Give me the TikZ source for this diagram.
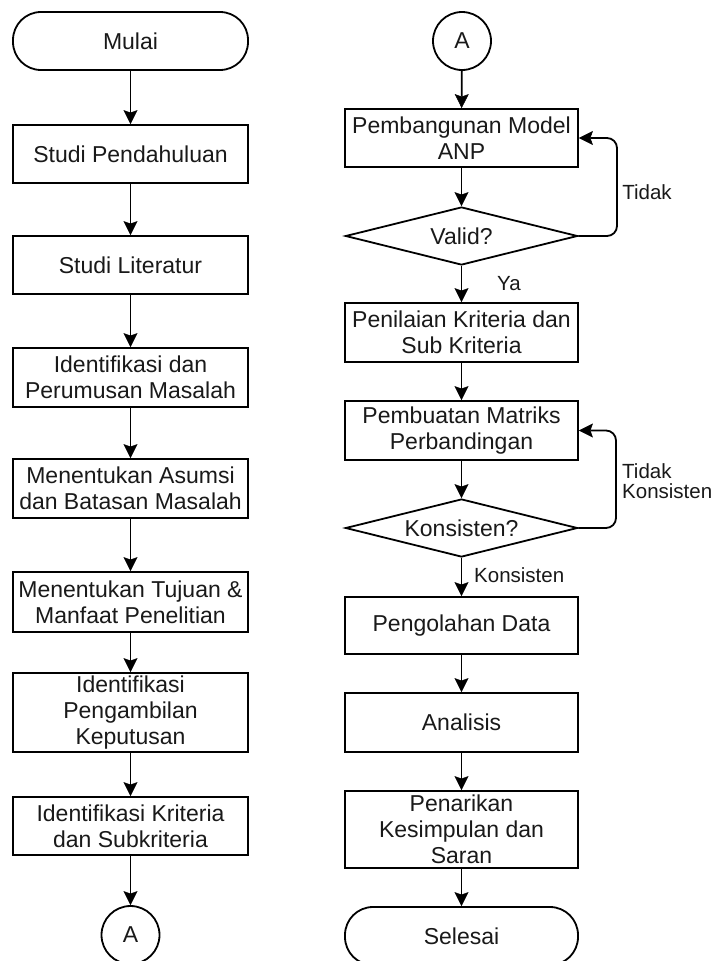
\documentclass[tikz,border=0pt]{standalone}
\usepackage{fontspec}
\setmainfont{Liberation Sans}
\usetikzlibrary{shapes.geometric,arrows.meta}
\begin{document}
\begin{tikzpicture}[x=1pt,y=-1pt,
  >={Stealth[length=14pt,width=14pt,inset=2.5pt,fill=black,line width=0.5pt]},
  every node/.style={font=\fontsize{23}{26}\selectfont, text=black!90, inner sep=0pt, align=center},
  box/.style={draw, line width=1.8pt, minimum width=235pt},
  boxr/.style={draw, line width=1.8pt, minimum width=233pt},
  term/.style={draw, line width=1.8pt, rounded corners=28pt, minimum height=58pt},
  conn/.style={draw, circle, line width=1.8pt, minimum size=58pt},
  dec/.style={draw, diamond, aspect=4, line width=1.8pt, minimum width=232pt, minimum height=58pt},
  lbl/.style={font=\fontsize{20.5}{20}\selectfont},
  arr/.style={line width=1.8pt, ->},
  backloop/.style={line width=1.8pt, ->, rounded corners=10pt}]
\useasboundingbox (0,0) rectangle (715,961);
% left column
\node[term, minimum width=235pt] (mulai) at (130.5,41) {Mulai};
\node[box, minimum height=58pt] (sp) at (130.5,154) {Studi Pendahuluan};
\node[box, minimum height=58pt] (sl) at (130.5,265) {Studi Literatur};
\node[box, minimum height=59pt] (ipm) at (130.5,377.5) {Identifikasi dan\\Perumusan Masalah};
\node[box, minimum height=59pt] (mab) at (130.5,488.5) {Menentukan Asumsi\\dan Batasan Masalah};
\node[box, minimum height=60pt] (mtm) at (130.5,602) {Menentukan Tujuan \&\\Manfaat Penelitian};
\node[box, minimum height=79pt] (ipk) at (130.5,712.5) {Identifikasi\\Pengambilan\\Keputusan};
\node[box, minimum height=58pt] (ikd) at (130.5,826) {Identifikasi Kriteria\\dan Subkriteria};
\node[conn] (ca) at (130.5,935) {A};
% right column
\node[conn] (cb) at (462,41) {A};
\node[boxr, minimum height=58pt] (pma) at (461.5,138) {Pembangunan Model\\ANP};
\node[dec] (valid) at (461.5,236) {Valid?};
\node[boxr, minimum height=59pt] (pks) at (461.5,332.5) {Penilaian Kriteria dan\\Sub Kriteria};
\node[boxr, minimum height=59pt] (pmp) at (461.5,430.5) {Pembuatan Matriks\\Perbandingan};
\node[dec] (kons) at (461.5,528) {Konsisten?};
\node[boxr, minimum height=57pt] (pd) at (461.5,625.5) {Pengolahan Data};
\node[boxr, minimum height=59pt] (an) at (461.5,722.5) {Analisis};
\node[boxr, minimum height=77pt] (pk) at (461.5,829.5) {Penarikan\\Kesimpulan dan\\Saran};
\node[term, minimum width=233pt] (sel) at (461.5,936) {Selesai};
% labels
\node[lbl] (ya) at (509,284) {Ya};
\node[lbl] (td1) at (647,192) {Tidak};
\node[lbl, anchor=west, align=left] (td2) at (622,481) {Tidak\\Konsisten};
\node[lbl, anchor=west] (ks) at (474,575) {Konsisten};
% connectors left
\draw[arr] (mulai) -- (sp);
\draw[arr] (sp) -- (sl);
\draw[arr] (sl) -- (ipm);
\draw[arr] (ipm) -- (mab);
\draw[arr] (mab) -- (mtm);
\draw[arr] (mtm) -- (ipk);
\draw[arr] (ipk) -- (ikd);
\draw[arr] (ikd) -- (ca);
% connectors right
\draw[arr] (cb) -- (pma);
\draw[arr] (pma) -- (valid);
\draw[arr] (valid) -- (pks);
\draw[backloop] (valid.east) -- (617,236) -- (617,138) -- (pma.east);
\draw[arr] (pks) -- (pmp);
\draw[arr] (pmp) -- (kons);
\draw[backloop] (kons.east) -- (616,528) -- (616,430.5) -- (pmp.east);
\draw[arr] (kons) -- (pd);
\draw[arr] (pd) -- (an);
\draw[arr] (an) -- (pk);
\draw[arr] (pk) -- (sel);
\end{tikzpicture}
\end{document}
